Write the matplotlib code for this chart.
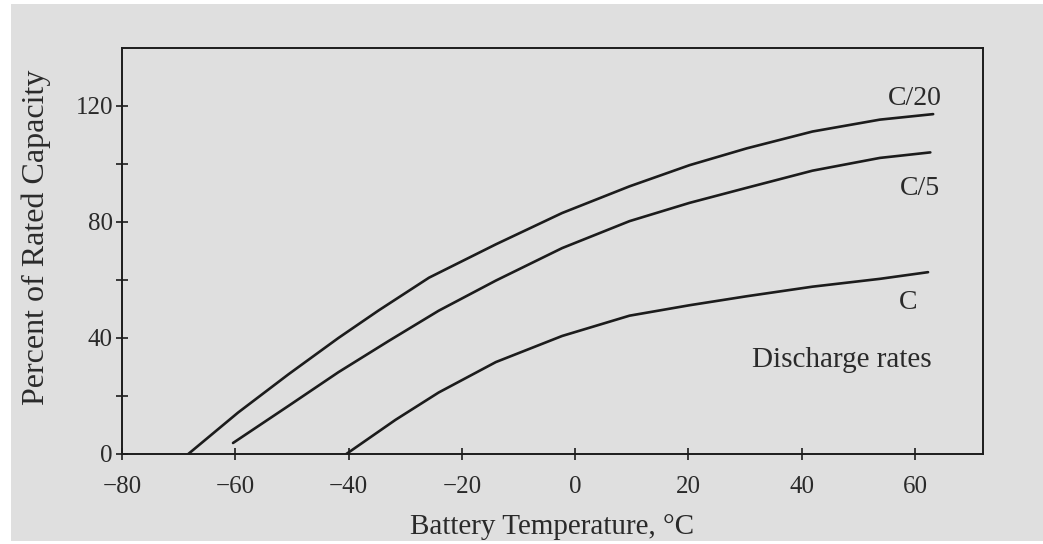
import matplotlib
matplotlib.use("Agg")
import matplotlib.pyplot as plt
from matplotlib.patches import Rectangle
from matplotlib.ticker import FixedLocator

# discharge curves: battery temperature (deg C) vs percent of rated capacity
temp_c20 = [-68.3, -59.5, -50.6, -41.8, -34.7, -25.8, -14.0, -2.3, 9.6, 20.2, 30.3, 41.9, 53.8, 63.2]
cap_c20 = [0, 14.3, 27.5, 40.0, 49.5, 60.8, 72.3, 83.1, 92.3, 99.6, 105.4, 111.2, 115.3, 117.2]

temp_c5 = [-60.4, -50.6, -41.8, -32.9, -24.1, -14.0, -2.3, 9.6, 20.2, 30.3, 41.9, 53.8, 62.7]
cap_c5 = [3.8, 16.6, 28.2, 39.0, 49.4, 59.8, 71.0, 80.3, 86.6, 91.8, 97.7, 102.1, 104.0]

temp_c1 = [-40.4, -31.7, -24.1, -14.0, -2.3, 9.6, 20.2, 30.3, 41.9, 53.8, 62.3]
cap_c1 = [0, 11.8, 21.2, 31.7, 40.7, 47.7, 51.3, 54.4, 57.7, 60.4, 62.7]

x_ticks = [-80, -60, -40, -20, 0, 20, 40, 60]
y_ticks = [0, 40, 80, 120]
y_minor = [20, 60, 100]

BG = "#dfdfdf"
INK = "#1c1c1c"
TXT = "#2a2a2a"

plt.rcParams["font.family"] = ["Liberation Serif", "DejaVu Serif"]

fig = plt.figure(figsize=(10.43, 5.44), dpi=100)
fig.patch.set_facecolor("white")
fig.add_artist(Rectangle((11 / 1043, 3 / 544), 1 - 11 / 1043, 1 - 7 / 544,
                         transform=fig.transFigure, facecolor=BG,
                         edgecolor="none", zorder=-5))

ax = fig.add_axes([122 / 1043, 90 / 544, 861 / 1043, 406 / 544])
ax.set_facecolor(BG)

for t, c in [(temp_c20, cap_c20), (temp_c5, cap_c5), (temp_c1, cap_c1)]:
    ax.plot(t, c, color=INK, lw=1.9, solid_capstyle="round", solid_joinstyle="round")

ax.set_xlim(-80, 72)
ax.set_ylim(0, 140)
ax.set_xticks(x_ticks)
ax.set_yticks(y_ticks)
ax.yaxis.set_minor_locator(FixedLocator(y_minor))
ax.tick_params(axis="both", which="both", direction="inout", length=9,
               width=1.2, color=INK, labelsize=18, labelcolor=TXT)
ax.tick_params(axis="x", pad=11)
ax.tick_params(axis="y", pad=2)
for s in ax.spines.values():
    s.set_color(INK)
    s.set_linewidth(1.4)

ax.set_xlabel("Battery Temperature, °C", fontsize=21, color=TXT, labelpad=12)
ax.set_ylabel("Percent of Rated Capacity", fontsize=23, color=TXT)
ax.yaxis.set_label_coords(-0.082, 0.534)

# curve labels
ax.text(60.0, 120.3, "C/20", fontsize=20, ha="center", va="baseline", color=TXT)
ax.text(60.9, 89.4, "C/5", fontsize=20, ha="center", va="baseline", color=TXT)
ax.text(58.8, 50.1, "C", fontsize=20, ha="center", va="baseline", color=TXT)
ax.text(47.1, 29.9, "Discharge rates", fontsize=21, ha="center", va="baseline",
        color=TXT)

fig.savefig("out.png", dpi=100, facecolor=fig.get_facecolor())
